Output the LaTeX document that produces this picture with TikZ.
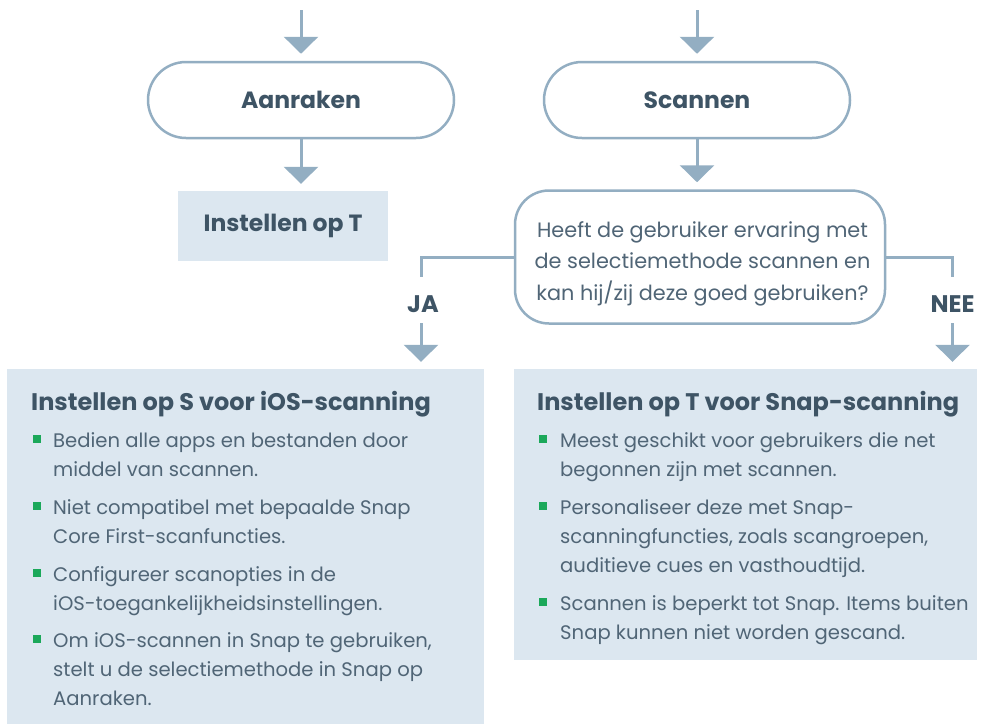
\documentclass[tikz,border=0pt]{standalone}
\usepackage{fontspec}
\setmainfont{Poppins}
\usetikzlibrary{arrows.meta,calc}
\definecolor{linec}{HTML}{93AEC2}
\definecolor{boxfill}{HTML}{DCE7F0}
\definecolor{darktext}{HTML}{3E5465}
\definecolor{bodytext}{HTML}{506576}
\definecolor{bulletc}{HTML}{1BA85A}
\begin{document}
\begin{tikzpicture}[x=1pt,y=-1pt,
  conn/.style={draw=linec,line width=3pt},
  flow/.style={conn,-{Triangle[width=34pt,length=17pt]},shorten >=7pt},
  stadium/.style={draw=linec,line width=2.5pt,fill=white,rounded corners=38pt,minimum width=306pt,minimum height=76pt,font=\fontsize{23.5}{28}\selectfont\bfseries,text=darktext},
  decision/.style={draw=linec,line width=2.5pt,fill=white,rounded corners=34pt,minimum width=370pt,minimum height=133pt},
  dectext/.style={anchor=base,inner sep=0pt,font=\fontsize{20.8}{25}\selectfont,text=bodytext},
  setbox/.style={fill=boxfill,inner sep=0pt,font=\fontsize{23.5}{28}\selectfont\bfseries,text=darktext},
  bigbox/.style={fill=boxfill,inner sep=0pt},
  lab/.style={anchor=base,inner sep=0pt,font=\fontsize{24}{28}\selectfont\bfseries,text=darktext},
  head/.style={anchor=base west,inner sep=0pt,font=\fontsize{24}{28}\selectfont\bfseries,text=darktext},
  body/.style={anchor=base west,inner sep=0pt,font=\fontsize{19.6}{29}\selectfont,text=bodytext},
  bullet/.style={fill=bulletc,inner sep=0pt,minimum size=8pt}
]
\useasboundingbox (0,0) rectangle (985,724);

% top nodes
\coordinate (topL) at (301,10);
\coordinate (topR) at (697,10);
\node[stadium] (aan) at (301,100) {Aanraken};
\node[stadium] (scan) at (697,100) {Scannen};
\node[setbox,minimum width=210pt,minimum height=70pt] (setT) at (283,226) {Instellen op T};
\node[decision] (dec) at (700,257) {};
\node[dectext] (q1) at (702.5,237) {Heeft de gebruiker ervaring met};
\node[dectext] (q2) at (702.5,268.5) {de selectiemethode scannen en};
\node[dectext] (q3) at (702.5,300) {kan hij/zij deze goed gebruiken?};

% big boxes
\node[bigbox,minimum width=477pt,minimum height=355pt] (lbox) at (245.5,546.5) {};
\node[bigbox,minimum width=463pt,minimum height=291pt] (rbox) at (745.5,514.5) {};

% labels
\node[lab] (ja) at (423,312) {JA};
\node[lab] (nee) at (952.5,312) {NEE};

% connectors
\draw[flow] (topL) -- (aan.north);
\draw[flow] (topR) -- (scan.north);
\draw[flow] (aan.south) -- (aan.south |- setT.north);
\draw[flow] (scan.south) -- (scan.south |- dec.north);
\draw[conn] (dec.west) -| ([xshift=-2pt,yshift=18pt]ja.north);
\draw[conn] (dec.east) -| ([yshift=18pt]nee.north);
\draw[flow] ([xshift=-2pt,yshift=-11pt]ja.south) -- ([xshift=-2pt]ja.south |- lbox.north);
\draw[flow] ([yshift=-11pt]nee.south) -- (nee.south |- rbox.north);

% left box content
\node[head] (lhead) at (31,410) {Instellen op S voor iOS-scanning};
\node[bullet] (lb1) at (37,439) {};
\node[body] (l1a) at (53,447) {Bedien alle apps en bestanden door};
\node[body] (l1b) at (53,476) {middel van scannen.};
\node[bullet] (lb2) at (37,506) {};
\node[body] (l2a) at (53,514) {Niet compatibel met bepaalde Snap};
\node[body] (l2b) at (53,543) {Core First-scanfuncties.};
\node[bullet] (lb3) at (37,573) {};
\node[body] (l3a) at (53,581) {Configureer scanopties in de};
\node[body] (l3b) at (53,610) {iOS-toegankelijkheidsinstellingen.};
\node[bullet] (lb4) at (37,639) {};
\node[body] (l4a) at (53,647) {Om iOS-scannen in Snap te gebruiken,};
\node[body] (l4b) at (53,676) {stelt u de selectiemethode in Snap op};
\node[body] (l4c) at (53,705) {Aanraken.};

% right box content
\node[head] (rhead) at (537,410) {Instellen op T voor Snap-scanning};
\node[bullet] (rb1) at (543,439) {};
\node[body] (r1a) at (560,447) {Meest geschikt voor gebruikers die net};
\node[body] (r1b) at (560,476) {begonnen zijn met scannen.};
\node[bullet] (rb2) at (543,506) {};
\node[body] (r2a) at (560,514) {Personaliseer deze met Snap-};
\node[body] (r2b) at (560,543) {scanningfuncties, zoals scangroepen,};
\node[body] (r2c) at (560,572) {auditieve cues en vasthoudtijd.};
\node[bullet] (rb3) at (543,602) {};
\node[body] (r3a) at (560,610) {Scannen is beperkt tot Snap. Items buiten};
\node[body] (r3b) at (560,639) {Snap kunnen niet worden gescand.};
\end{tikzpicture}
\end{document}
